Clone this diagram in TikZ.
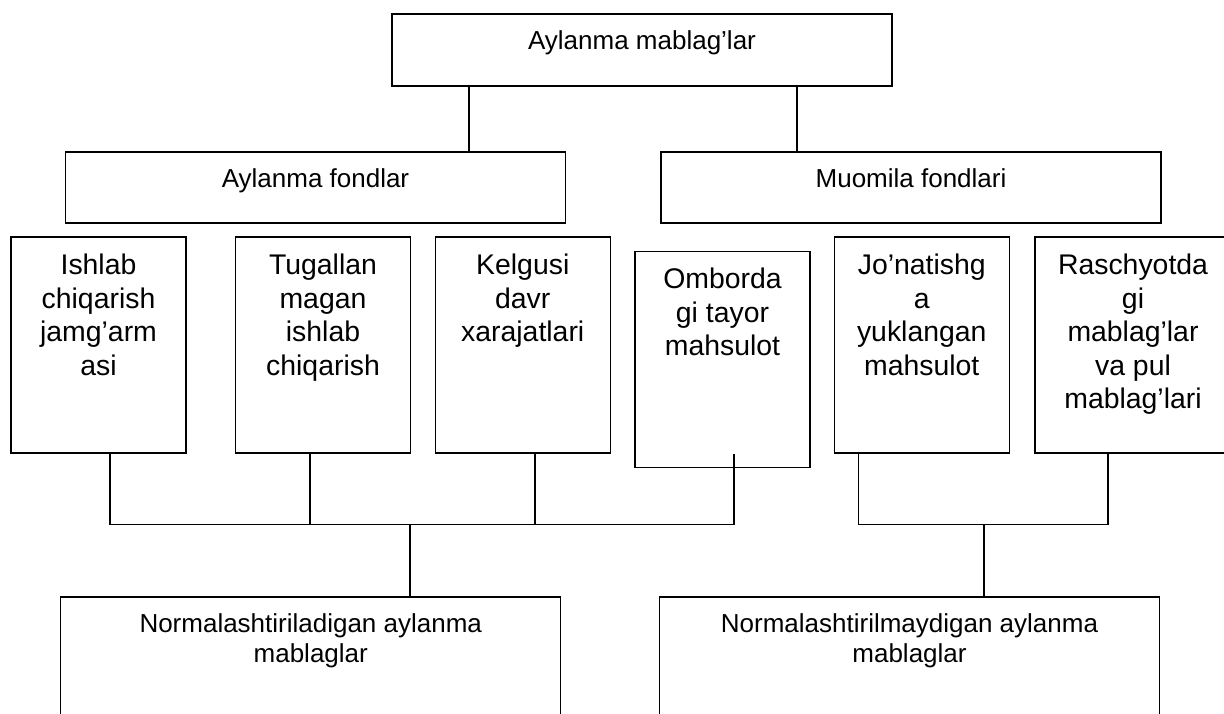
\documentclass[tikz,border=0pt]{standalone}
\usepackage{fontspec}
\setmainfont{Liberation Sans}
\usepackage{tikz}
\usetikzlibrary{positioning}
\tikzstyle{block} = [draw, rectangle, inner sep=0pt]
\tikzstyle{wide} = [block, minimum width=250pt, minimum height=36pt]
\tikzstyle{tall} = [block, minimum width=87.5pt, minimum height=108pt]
\tikzstyle{txt} = [inner sep=0pt, align=center, font=\fontsize{13}{15}\selectfont]
\tikzstyle{talltxt} = [inner sep=0pt, align=center, font=\fontsize{14.2}{16.75}\selectfont]

\begin{document}
\begin{tikzpicture}[auto, x=0.5pt, y=-0.5pt, line width=0.7pt]
  \useasboundingbox (0,0) rectangle (1224,713);
  % upper levels
  \node[wide] (total) at (642,50) {};
  \node[txt, below=8.5pt of total.north] (totalT) {Aylanma mablag’lar};
  \node[wide, minimum height=35.5pt] (fondA) at (315.5,187.5) {};
  \node[txt, below=8.5pt of fondA.north] (fondAT) {Aylanma fondlar};
  \node[wide, minimum height=35.5pt] (fondM) at (911,187.5) {};
  \node[txt, below=8.5pt of fondM.north] (fondMT) {Muomila fondlari};
  % items
  \node[tall] (I1) at (98.5,345) {};
  \node[talltxt, below=8.5pt of I1.north] (I1T) {Ishlab\\chiqarish\\jamg’arm\\asi};
  \node[tall] (I2) at (323,345) {};
  \node[talltxt, below=8.5pt of I2.north] (I2T) {Tugallan\\magan\\ishlab\\chiqarish};
  \node[tall] (I3) at (522.75,345) {};
  \node[talltxt, below=8.5pt of I3.north] (I3T) {Kelgusi\\davr\\xarajatlari};
  \node[tall] (I4) at (722.5,359.25) {};
  \node[talltxt, below=8.5pt of I4.north] (I4T) {Omborda\\gi tayor\\mahsulot};
  \node[tall] (I5) at (921.75,345) {};
  \node[talltxt, below=8.5pt of I5.north] (I5T) {Jo’natishg\\a\\yuklangan\\mahsulot};
  \node[tall, minimum width=110pt] (I6) at (1145,345) {};
  \node[talltxt, below=8.5pt of I6.north, xshift=-6pt] (I6T) {Raschyotda\\gi\\mablag’lar\\va pul\\mablag’lari};
  % lower level
  \node[wide, minimum height=70pt] (normA) at (310.75,667) {};
  \node[txt, below=8.5pt of normA.north] (normAT) {Normalashtiriladigan aylanma\\mablaglar};
  \node[wide, minimum height=70pt] (normB) at (909.5,667) {};
  \node[txt, below=8.5pt of normB.north] (normBT) {Normalashtirilmaydigan aylanma\\mablaglar};
  \coordinate (jA) at (410,524.5);
  \coordinate (jB) at (984,524.5);
  \draw (total.south -| 469,0) -- (fondA.north -| 469,0);
  \draw (total.south -| 797,0) -- (fondM.north -| 797,0);
  \draw (I1.south -| 110,0) |- (jA) -| (I3.south -| 734,0);
  \draw (I2.south -| 310,0) -- (310,524.5);
  \draw (I3.south -| 535,0) -- (535,524.5);
  \draw (jA) -- (normA.north -| jA);
  \draw (I5.south -| 858.5,0) |- (jB) -| (I6.south -| 1108,0);
  \draw (jB) -- (normB.north -| jB);
\end{tikzpicture}
\end{document}
